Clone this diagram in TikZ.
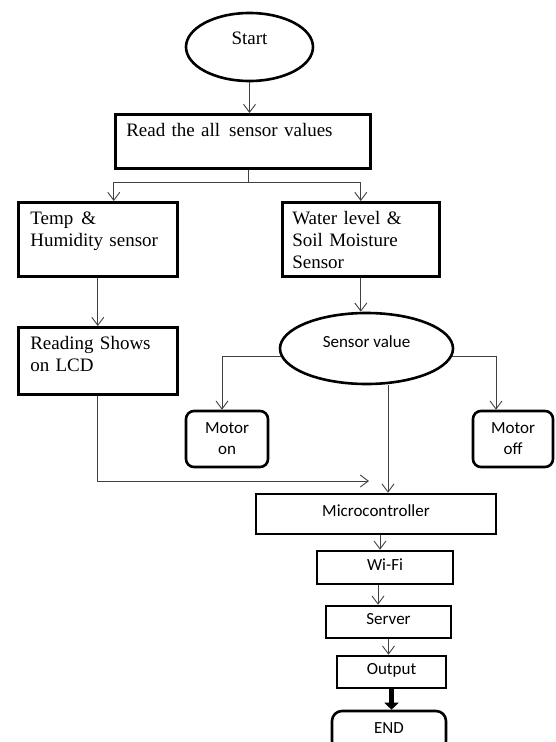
\documentclass[tikz,border=0pt]{standalone}
\usepackage{fontspec}
\setmainfont{Liberation Serif}
\newfontfamily\sansfnt{Carlito}
\usepackage{tikz}
\usetikzlibrary{shapes.geometric, arrows.meta}

\begin{document}
\begin{tikzpicture}[x=1pt, y=-1pt]
\tikzstyle{txtbox} = [rectangle, draw=black, line width=2.6pt, anchor=north west, inner xsep=11pt, inner ysep=0pt, text height=22pt, align=left, font=\fontsize{19}{22}\selectfont]
\tikzstyle{oval} = [ellipse, draw=black, line width=2.6pt, inner sep=0pt, text height=10pt]
\tikzstyle{block} = [rectangle, draw=black, line width=2.6pt, inner sep=0pt, text height=11pt, text depth=6pt, font=\sansfnt\fontsize{17}{21}\selectfont]
\tikzstyle{soft} = [rectangle, rounded corners=8pt, draw=black, line width=2.6pt, inner sep=0pt, align=center, font=\sansfnt\fontsize{17}{21}\selectfont]
\tikzstyle{line} = [color=black!75, line width=0.9pt]
\tikzstyle{arrow} = [line, -{Straight Barb[length=8pt,width=12pt]}]
\tikzstyle{bigarrow} = [black, line width=5pt, -{Triangle[length=7pt,width=14pt]}]

\useasboundingbox (0,0) rectangle (555,742);

% top part
\node (start) [oval, minimum width=127pt, minimum height=68pt, text depth=16pt, font=\fontsize{19}{22}\selectfont] at (249.5,47) {Start};
\node (read) [txtbox, text width=233pt, text depth=32pt] at (114,113) {Read the all\hspace{9pt}sensor values};
\node (temp) [txtbox, text width=135pt, inner xsep=12pt, text depth=52pt] at (17,201) {Temp\hspace{8pt}\&\\Humidity sensor};
\node (water) [txtbox, text width=137pt, inner xsep=10pt, text depth=52pt] at (281,201) {Water level \&\\Soil Moisture\\Sensor};
\node (reading) [txtbox, text width=135pt, inner xsep=12pt, text depth=45pt] at (17,326) {Reading Shows\\on LCD};

% sensor part
\node (sensor) [oval, minimum width=173pt, minimum height=71pt, text depth=13pt, font=\sansfnt\fontsize{17}{21}\selectfont] at (366.5,348.5) {Sensor value};
\node (motoron) [soft, minimum width=82pt, minimum height=56pt] at (227,439) {Motor\\on};
\node (motoroff) [soft, minimum width=80pt, minimum height=56pt] at (513,439) {Motor\\off};

% bottom chain
\node (micro) [block, minimum width=240pt, minimum height=40pt] at (376,514) {Microcontroller};
\node (wifi) [block, minimum width=136pt, minimum height=33pt] at (385,567.5) {Wi-Fi};
\node (server) [block, minimum width=125pt, minimum height=32pt] at (388.5,622) {Server};
\node (output) [block, minimum width=109pt, minimum height=32pt] at (391.5,672) {Output};
\node (finish) [block, rounded corners=10pt, minimum width=114pt, minimum height=40pt] at (389,731) {END};

\coordinate (split) at (248,182);
\coordinate (lcdin) at (369,481);

\draw [arrow] (start.south) -- (start.south |- read.north);
\draw [line] (split |- read.south) -- (split);
\draw [arrow] (split) -| ([xshift=16pt]temp.north);
\draw [arrow] (split) -| (water.north);
\draw [arrow] (temp.south) -- (reading.north);
\draw [arrow] (water.south) -- (water.south |- sensor.north);
\draw [arrow] (sensor.185) -| ([xshift=-5pt]motoron.north);
\draw [arrow] (sensor.355) -| ([xshift=-17pt]motoroff.north);
\draw [arrow] ([xshift=21.5pt]sensor.south) -- ([xshift=21.5pt]sensor.south |- micro.north);
\draw [arrow] (reading.south) |- (lcdin);
\draw [arrow] ([xshift=4pt]micro.south) -- ([xshift=4pt]micro.south |- wifi.north);
\draw [arrow] ([xshift=-7pt]wifi.south) -- ([xshift=-7pt]wifi.south |- server.north);
\draw [arrow] (server.south) -- (server.south |- output.north);
\draw [bigarrow] (output.south) -- (output.south |- finish.north);
\end{tikzpicture}
\end{document}
